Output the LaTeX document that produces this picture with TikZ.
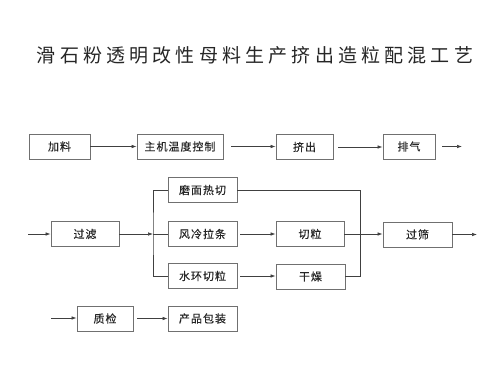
\documentclass[tikz,border=0pt]{standalone}
\usepackage{fontspec}
\setmainfont{Noto Sans CJK SC}
\newfontfamily\titlefont[LetterSpace=22]{Noto Sans CJK SC}
\newfontfamily\boxfont[LetterSpace=9,FakeBold=0.4]{Noto Sans CJK SC}
\usetikzlibrary{arrows.meta}
\definecolor{boxline}{HTML}{707070}
\definecolor{conn}{HTML}{404040}
\begin{document}
\begin{tikzpicture}[x=1pt,y=-1pt,
  stepbox/.style={draw=boxline,line width=0.8pt,minimum height=25pt,inner sep=0pt,
    font=\boxfont\fontsize{11pt}{12pt}\selectfont,text=black!85},
  line/.style={conn,line width=0.7pt},
  arr/.style={line,-{Latex[length=5pt,width=3.6pt]}}]
\useasboundingbox (0,0) rectangle (500,375);
\node[font=\titlefont\fontsize{19pt}{21pt}\selectfont,text=black!85] (title) at (255,55) {滑石粉透明改性母料生产挤出造粒配混工艺};
% row 1
\node[stepbox,minimum width=61pt] (jl) at (59.5,146.5) {加料};
\node[stepbox,minimum width=86pt] (zj) at (180,146.5) {主机温度控制};
\node[stepbox,minimum width=57pt] (jc) at (304.5,147) {挤出};
\node[stepbox,minimum width=52pt] (pq) at (409,146.5) {排气};
\coordinate (e1) at (462,146.5);
\draw[arr] (jl) -- (zj);
\draw[arr] (zj.east) ++(8,0) -- (jc.west |- zj.east);
\draw[arr] (jc.east) ++(5,0) -- (pq.west |- jc.east);
\draw[arr] (pq.east) ++(7,0) -- (e1);
% row 2
\coordinate (s2) at (28,234);
\node[stepbox,minimum width=68pt] (gl) at (85,234) {过滤};
\coordinate (jn) at (153,234);
\node[stepbox,minimum width=69pt] (mm) at (202.5,190) {磨面热切};
\node[stepbox,minimum width=69pt] (fl) at (202.5,234) {风冷拉条};
\node[stepbox,minimum width=69pt] (sh) at (202.5,276) {水环切粒};
\node[stepbox,minimum width=68pt] (ql) at (310,234) {切粒};
\node[stepbox,minimum width=69pt] (gz) at (310.5,276.5) {干燥};
\coordinate (rx) at (360,234);
\node[stepbox,minimum width=69pt] (gs) at (417.5,234.5) {过筛};
\coordinate (e2) at (477,234.5);
\draw[arr] (s2) -- (gl.west |- s2);
\draw[arr] (gl.east) -- (jn);
\draw[line] (mm.west) -| (jn) |- (sh.west);
\draw[line] (jn) -- (fl.west);
\draw[arr] (fl.east) ++(3,0) -- (ql.west |- fl.east);
\draw[arr] (sh.east) ++(3,0) -- (gz.west |- sh.east);
\draw[line] (mm.east) -- (mm.east -| rx) -- (gz.east -| rx) -- (gz.east);
\draw[arr] (ql.east) -- (gs.west |- ql.east);
\draw[arr] (gs.east) -- (e2);
% row 3
\coordinate (s3) at (51,318);
\node[stepbox,minimum width=56pt] (zjj) at (105,318.5) {质检};
\node[stepbox,minimum width=69pt] (cp) at (202.5,318.5) {产品包装};
\draw[arr] (s3) -- (zjj.west |- s3);
\draw[arr] (zjj.east) ++(4,0) -- (cp.west |- zjj.east);
\end{tikzpicture}
\end{document}
